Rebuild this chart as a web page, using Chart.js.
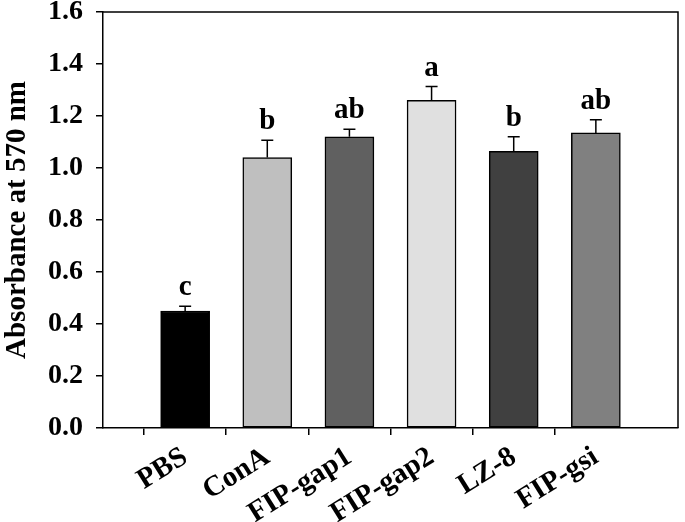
<!DOCTYPE html>
<html>
<head>
<meta charset="utf-8">
<script src="https://cdn.jsdelivr.net/npm/chart.js@4"></script>
<style>
  body { margin: 0; background: #fff; }
</style>
</head>
<body>
<canvas id="chart" width="685" height="522"></canvas>
<script>
// values
const groups = ['PBS', 'ConA', 'FIP-gap1', 'FIP-gap2', 'LZ-8', 'FIP-gsi']
const means = [0.45, 1.04, 1.12, 1.26, 1.064, 1.135]
const errs = [0.018, 0.067, 0.029, 0.053, 0.056, 0.051]
const letters = ['c', 'b', 'ab', 'a', 'b', 'ab']
const barColors = ['#000000', '#bfbfbf', '#606060', '#e0e0e0', '#404040', '#808080']
const yTicks = [0, 0.2, 0.4, 0.6, 0.8, 1.0, 1.2, 1.4, 1.6]

const serif = 'Liberation Serif'

// empty slots at both ends so the bars sit like in the original plot
const labels = [''].concat(groups, [''])
const values = [null].concat(means, [null])
const colors = ['#000'].concat(barColors, ['#000'])

// error bars + letters above them, and the box around the plot
const extras = {
  id: 'extras',
  afterDatasetsDraw(chart) {
    const ctx = chart.ctx
    const y = chart.scales.y
    const meta = chart.getDatasetMeta(0)
    ctx.save()
    ctx.strokeStyle = '#000'
    ctx.lineWidth = 1.5
    for (let i = 0; i < groups.length; i++) {
      const bar = meta.data[i + 1]
      const top = y.getPixelForValue(means[i])
      const cap = y.getPixelForValue(means[i] + errs[i])
      ctx.beginPath()
      ctx.moveTo(bar.x, top)
      ctx.lineTo(bar.x, cap)
      ctx.moveTo(bar.x - 6, cap)
      ctx.lineTo(bar.x + 6, cap)
      ctx.stroke()

      ctx.fillStyle = '#000'
      ctx.font = 'bold 29px "' + serif + '"'
      ctx.textAlign = 'center'
      ctx.textBaseline = 'alphabetic'
      ctx.fillText(letters[i], bar.x, cap - 11)
    }
    const a = chart.chartArea
    ctx.beginPath()
    ctx.moveTo(a.left, a.top)
    ctx.lineTo(a.right, a.top)
    ctx.lineTo(a.right, a.bottom)
    ctx.stroke()
    ctx.restore()
  }
}

new Chart(document.getElementById('chart'), {
  type: 'bar',
  data: {
    labels: labels,
    datasets: [{
      data: values,
      backgroundColor: colors,
      borderColor: '#000',
      borderWidth: 1.5,
      borderSkipped: false,
      barThickness: 49
    }]
  },
  options: {
    responsive: false,
    animation: false,
    layout: { padding: { top: 12, right: 7, left: 0, bottom: 0 } },
    plugins: {
      legend: { display: false },
      tooltip: { enabled: false }
    },
    scales: {
      x: {
        offset: false,
        grid: {
          drawOnChartArea: false,
          tickLength: 7,
          lineWidth: 1.5,
          tickColor: (c) => (c.index === 0 || c.index === labels.length - 1) ? 'rgba(0,0,0,0)' : '#000'
        },
        border: { color: '#000', width: 1.5 },
        ticks: {
          color: '#000',
          font: { family: serif, weight: 'bold', size: 29 },
          maxRotation: 32,
          minRotation: 32,
          padding: 5,
          autoSkip: false
        },
        afterFit: (s) => { s.height = 94; s.paddingLeft = 0; s.paddingRight = 0 }
      },
      y: {
        min: 0,
        max: 1.6,
        afterBuildTicks: (s) => { s.ticks = yTicks.map(v => ({ value: v })) },
        grid: { drawOnChartArea: false, tickLength: 7, lineWidth: 1.5, tickColor: '#000' },
        border: { color: '#000', width: 1.5 },
        ticks: {
          color: '#000',
          font: { family: serif, weight: 'bold', size: 28 },
          padding: 13,
          callback: (v) => v.toFixed(1)
        },
        title: {
          display: true,
          text: 'Absorbance at 570 nm',
          color: '#000',
          font: { family: serif, weight: 'bold', size: 29 },
          padding: { top: 0, bottom: 0 }
        },
        afterFit: (s) => { s.width = 103; s.paddingTop = 0; s.paddingBottom = 0 }
      }
    }
  },
  plugins: [extras]
})
</script>
</body>
</html>
